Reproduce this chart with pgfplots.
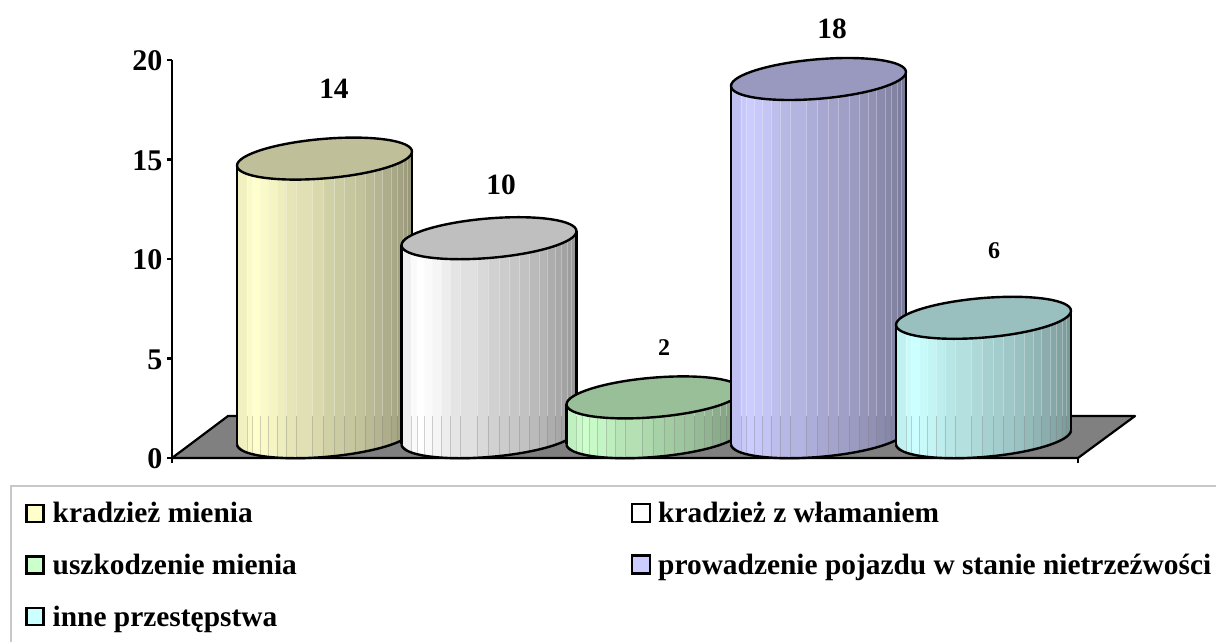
\documentclass[border=0pt]{standalone}
\usepackage{fontspec}
\setmainfont{Liberation Serif}
\usepackage{pgfplots}
\pgfplotsset{compat=1.18}
\definecolor{cYel}{HTML}{FFFFCC}\definecolor{tYel}{HTML}{BFBF99}
\definecolor{cWhi}{HTML}{FFFFFF}\definecolor{tWhi}{HTML}{BFBFBF}
\definecolor{cGre}{HTML}{CCFFCC}\definecolor{tGre}{HTML}{99BF99}
\definecolor{cPur}{HTML}{CCCCFF}\definecolor{tPur}{HTML}{9999BF}
\definecolor{cCya}{HTML}{CCFFFF}\definecolor{tCya}{HTML}{99BFBF}
\definecolor{floorgray}{HTML}{808080}
\definecolor{boxgray}{HTML}{C8C8C8}
\newcommand\tfont{\bfseries\fontsize{30}{30}\selectfont}
\newcommand\lfont{\bfseries\fontsize{29.4}{29.4}\selectfont}
\newcommand\sfont{\bfseries\fontsize{24}{24}\selectfont}
% cylinder: centre x, value, body colour, cap colour
\newcommand\cyl[4]{%
  \foreach \fa/\fb/\sh in {0/.057/94,.057/.09/98,.09/.133/100,.133/.177/98,.177/.229/96,.229/.28/93,.28/.337/90,.337/.432/88,.432/.495/85,.495/.558/82,.558/.615/80,.615/.676/78,.676/.733/76,.733/.787/73,.787/.832/71,.832/.88/68,.88/.914/66,.914/.949/64,.949/.971/62,.971/1/60}{%
    \pgfmathsetmacro\ca{2*\fa-1}%
    \pgfmathsetmacro\cb{2*\fb-1}%
    \pgfmathsetmacro\xa{#1+87.5*\ca-.3}%
    \pgfmathsetmacro\xb{#1+87.5*\cb+.3}%
    \pgfmathsetmacro\ya{(20.8+7*\ca-19.8*sqrt(max(0,1-\ca*\ca)))/19.9}%
    \pgfmathsetmacro\yb{(20.8+7*\cb-19.8*sqrt(max(0,1-\cb*\cb)))/19.9}%
    \pgfmathsetmacro\yc{\ya+#2}%
    \pgfmathsetmacro\yd{\yb+#2}%
    \edef\tmp{\noexpand\addplot[forget plot,draw=none,fill=#3!\sh!black] coordinates {(\xa,\ya)(\xb,\yb)(\xb,\yd)(\xa,\yc)};}\tmp
  }%
  \foreach \fb in {.057,.09,.133,.177,.229,.28,.337,.432,.495,.558,.615,.676,.733,.787,.832,.88,.914,.949,.971}{%
    \pgfmathsetmacro\cb{2*\fb-1}%
    \pgfmathsetmacro\xb{#1+87.5*\cb}%
    \pgfmathsetmacro\yb{(20.8+7*\cb-19.8*sqrt(max(0,1-\cb*\cb)))/19.9}%
    \pgfmathsetmacro\yd{\yb+#2}%
    \pgfmathsetmacro\ym{min(2.11,\yd)}%
    \pgfmathsetmacro\yn{max(2.11,\yd)}%
    \edef\tmp{\noexpand\addplot[forget plot,floorgray,line width=.7pt,opacity=.35] coordinates {(\xb,\yb)(\xb,\ym)};}\tmp
    \edef\tmp{\noexpand\addplot[forget plot,white,line width=.7pt,opacity=.3] coordinates {(\xb,\ym)(\xb,\yn)};}\tmp
  }%
  \pgfmathsetmacro\xl{#1-87.5}\pgfmathsetmacro\xr{#1+87.5}%
  \pgfmathsetmacro\tl{0.693+#2}\pgfmathsetmacro\tr{1.397+#2}%
  \edef\tmp{\noexpand\addplot[forget plot,black,line width=2.4pt] coordinates {(\xl,0.693)(\xl,\tl)};}\tmp
  \edef\tmp{\noexpand\addplot[forget plot,black,line width=2.4pt] coordinates {(\xr,1.397)(\xr,\tr)};}\tmp
  \draw[line width=2.4pt,shift={(axis cs:#1,0)},yshift=20.8pt,yslant=.08]
    (canvas cs:x=-87.5pt,y=0pt) arc[start angle=180,end angle=360,x radius=87.5pt,y radius=19.8pt];
  \draw[line width=2.4pt,fill=#4,shift={(axis cs:#1,#2)},yshift=20.8pt,yslant=.08]
    (canvas cs:x=0pt,y=0pt) ellipse[x radius=87.5pt,y radius=19.8pt];
}
\begin{document}
\begin{tikzpicture}
\path[use as bounding box] (-172pt,-184pt) rectangle (1044pt,458pt);
\begin{axis}[
  scale only axis, width=906pt, height=398pt,
  xmin=172, xmax=1078, ymin=0, ymax=20,
  clip=false,
  axis lines=left,
  axis line style={-,line width=2.4pt,black},
  tick align=outside,
  tick style={black,line width=2.4pt},
  major tick length=5pt,
  xtick={172,1078}, xticklabels={},
  ytick={0,5,10,15,20},
  tick label style={font=\tfont},
  yticklabel style={xshift=-1pt,yshift=-1pt},
  /pgf/number format/assume math mode=true,
  legend columns=2,
  legend cell align=left,
  legend style={at={(axis cs:25,-2.235)},anchor=north west,draw=none,fill=none,
    inner sep=0pt,
    nodes={inner sep=0pt,text height=20pt,text depth=6pt},
    /tikz/row sep=25.5pt,
    /tikz/column sep=0pt,
    /tikz/every even column/.append style={column sep=0pt},
    font=\lfont},
]
\draw[boxgray,line width=2pt] (axis cs:11,-12) -- (axis cs:11,-1.407) -- (axis cs:1235,-1.407);
\addplot[forget plot,draw=black,line width=2.2pt,fill=floorgray,line join=round]
  coordinates {(172,0)(1078,0)(1135,2.11)(228,2.11)} -- cycle;
\cyl{324.5}{14}{cYel}{tYel}
\cyl{489}{10}{cWhi}{tWhi}
\cyl{654}{2}{cGre}{tGre}
\cyl{818.5}{18}{cPur}{tPur}
\cyl{983.5}{6}{cCya}{tCya}
\addplot[forget plot,draw=none,point meta=y,nodes near coords,nodes near coords style={anchor=center,yshift=91pt,font=\lfont}] coordinates {(334,14)};
\addplot[forget plot,draw=none,point meta=y,nodes near coords,nodes near coords style={anchor=center,yshift=74pt,font=\lfont}] coordinates {(501,10)};
\addplot[forget plot,draw=none,point meta=y,nodes near coords,nodes near coords style={anchor=center,yshift=71pt,font=\sfont}] coordinates {(664,2)};
\addplot[forget plot,draw=none,point meta=y,nodes near coords,nodes near coords style={anchor=center,yshift=71pt,font=\lfont}] coordinates {(832,18)};
\addplot[forget plot,draw=none,point meta=y,nodes near coords,nodes near coords style={anchor=center,yshift=88pt,font=\sfont}] coordinates {(994,6)};
\addlegendimage{legend image code/.code={\draw[fill=cYel,line width=2.5pt] (0pt,-6pt) rectangle (17pt,11pt);}}
\addlegendentry{\hspace{8pt}\makebox[578pt][l]{kradzież mienia}}
\addlegendimage{legend image code/.code={\draw[fill=cWhi,line width=2.5pt] (0pt,-6pt) rectangle (18pt,12pt);}}
\addlegendentry{\hspace{7pt}\makebox[700pt][l]{kradzież z włamaniem}}
\addlegendimage{legend image code/.code={\draw[fill=cGre,line width=2.5pt] (0pt,-6pt) rectangle (17pt,11pt);}}
\addlegendentry{\hspace{8pt}\makebox[578pt][l]{uszkodzenie mienia}}
\addlegendimage{legend image code/.code={\draw[fill=cPur,line width=2.5pt] (0pt,-6pt) rectangle (18pt,12pt);}}
\addlegendentry{\hspace{7pt}\makebox[700pt][l]{prowadzenie pojazdu w stanie nietrzeźwości}}
\addlegendimage{legend image code/.code={\draw[fill=cCya,line width=2.5pt] (0pt,-6pt) rectangle (17pt,11pt);}}
\addlegendentry{\hspace{8pt}\makebox[578pt][l]{inne przestępstwa}}
\end{axis}
\end{tikzpicture}
\end{document}
